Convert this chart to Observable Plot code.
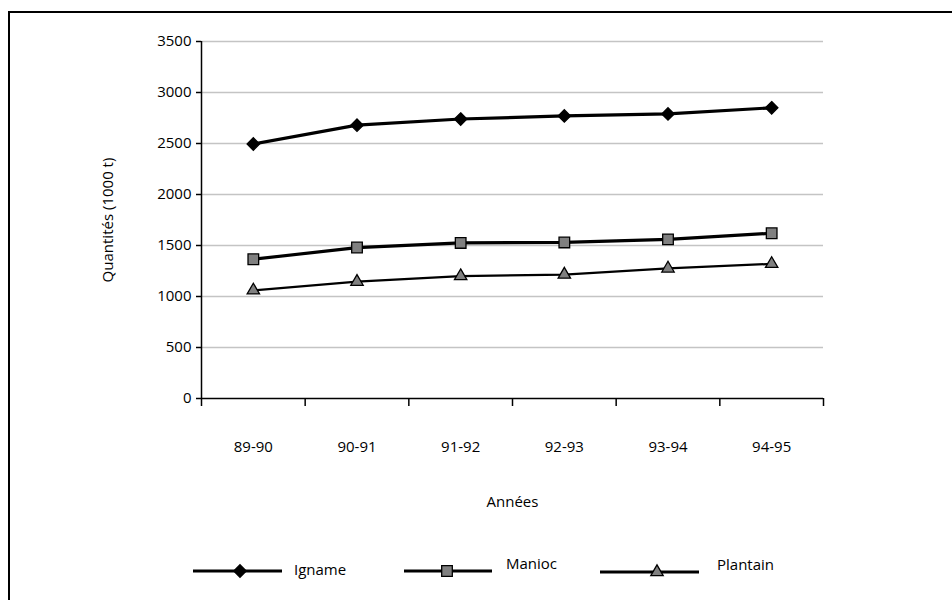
<!DOCTYPE html>
<html>
<head>
<meta charset="utf-8">
<script src="https://cdn.jsdelivr.net/npm/d3@7"></script>
<script src="https://cdn.jsdelivr.net/npm/@observablehq/plot@0.6"></script>
<style>
  html, body { margin: 0; padding: 0; background: #fff; overflow: hidden; width: 952px; height: 600px; }
  #frame { position: absolute; left: 8px; top: 11px; width: 2000px; height: 2000px;
           border-left: 2px solid #000; border-top: 2px solid #000; box-sizing: border-box; }
  #chart { position: absolute; left: 0; top: 0; }
  .leg { position: absolute; font-family: "Open Sans", sans-serif; font-size: 15px; color: #000; line-height: 1; }
  .legsym { position: absolute; }
</style>
</head>
<body>
<div id="frame"></div>
<div id="chart"></div>
<div id="legend"></div>
<script>
const years = ["89-90", "90-91", "91-92", "92-93", "93-94", "94-95"];
const igname = [2495, 2680, 2740, 2770, 2790, 2850];
const manioc = [1365, 1480, 1525, 1530, 1560, 1620];
const plantain = [1060, 1145, 1200, 1215, 1275, 1320];
const seriesNames = ["Igname", "Manioc", "Plantain"];
const yTicks = [0, 500, 1000, 1500, 2000, 2500, 3000, 3500];

const styles = {
  Igname:   {symbol: "diamond2", fill: "#000",    r: 5.6, lw: 3.2, legLw: 3.2},
  Manioc:   {symbol: "square",   fill: "#808080", r: 6.0, lw: 3.2, legLw: 3.2},
  Plantain: {symbol: "triangle", fill: "#808080", r: 4.6, lw: 2.2, legLw: 3.2}
};
const valuesBy = {Igname: igname, Manioc: manioc, Plantain: plantain};
const rows = seriesNames.flatMap(s => years.map((y, i) => ({series: s, year: y, i, value: valuesBy[s][i]})));

const seriesMarks = seriesNames.flatMap(s => {
  const d = rows.filter(r => r.series === s);
  const st = styles[s];
  return [
    Plot.line(d, {x: r => r.i + 0.5, y: "value", stroke: "#000", strokeWidth: st.lw}),
    Plot.dot(d, {x: r => r.i + 0.5, y: "value", symbol: () => st.symbol, fill: st.fill, stroke: "#000", strokeWidth: 1.3, r: st.r})
  ];
});

const chart = Plot.plot({
  width: 952,
  height: 540,
  marginLeft: 201,
  marginRight: 129,
  marginTop: 41,
  marginBottom: 142,
  style: {fontFamily: "'Open Sans', sans-serif", fontSize: "15px", color: "#000", background: "transparent"},
  x: {domain: [0, years.length]},
  y: {domain: [0, 3500]},
  symbol: {type: "identity"},
  marks: [
    Plot.gridY(yTicks.slice(1), {stroke: "#c4c4c4", strokeOpacity: 1, strokeWidth: 1.6}),
    Plot.axisY({ticks: yTicks, tickSize: 5, tickPadding: 5, tickFormat: d => String(d), fontSize: 15,
                label: "Quantités (1000 t)", labelArrow: "none", labelAnchor: "center", labelOffset: 99, strokeWidth: 1.5}),
    Plot.axisX({ticks: d3.range(0, years.length + 1), tickSize: 8, tickFormat: () => "", label: null, strokeWidth: 1.5}),
    Plot.axisX({ticks: years.map((_, i) => i + 0.5), tickSize: 0, tickPadding: 43, fontSize: 15,
                tickFormat: v => years[Math.round(v - 0.5)], label: "Années", labelArrow: "none", labelAnchor: "center", labelOffset: 108}),
    Plot.ruleX([0], {stroke: "#000", strokeWidth: 1.5}),
    Plot.ruleY([0], {stroke: "#000", strokeWidth: 1.5}),
    ...seriesMarks
  ]
});
document.getElementById("chart").appendChild(chart);

// Legend (HTML below the SVG)
const legendLayout = {
  Igname:   {x1: 193, x2: 282, y: 571, sx: 240, tx: 294, ty: 571},
  Manioc:   {x1: 404, x2: 492, y: 571, sx: 447, tx: 506, ty: 565},
  Plantain: {x1: 600, x2: 699, y: 572, sx: 657, tx: 717, ty: 566}
};
const legend = document.getElementById("legend");
for (const s of seriesNames) {
  const L = legendLayout[s], st = styles[s];
  const svg = d3.create("svg").attr("class", "legsym")
    .attr("width", L.x2 - L.x1 + 4).attr("height", 20)
    .style("left", (L.x1 - 2) + "px").style("top", (L.y - 10) + "px");
  svg.append("line").attr("x1", 2).attr("x2", L.x2 - L.x1 + 2).attr("y1", 10).attr("y2", 10)
    .attr("stroke", "#000").attr("stroke-width", st.legLw);
  const sym = {diamond2: d3.symbolDiamond2, square: d3.symbolSquare, triangle: d3.symbolTriangle}[st.symbol];
  svg.append("path").attr("d", d3.symbol(sym, st.r * st.r * Math.PI)())
    .attr("transform", `translate(${L.sx - L.x1 + 2},10)`)
    .attr("fill", st.fill).attr("stroke", "#000").attr("stroke-width", 1.3);
  legend.appendChild(svg.node());
  const t = document.createElement("div");
  t.className = "leg";
  t.textContent = s;
  t.style.left = L.tx + "px";
  t.style.top = (L.ty - 9) + "px";
  legend.appendChild(t);
}
</script>
</body>
</html>
